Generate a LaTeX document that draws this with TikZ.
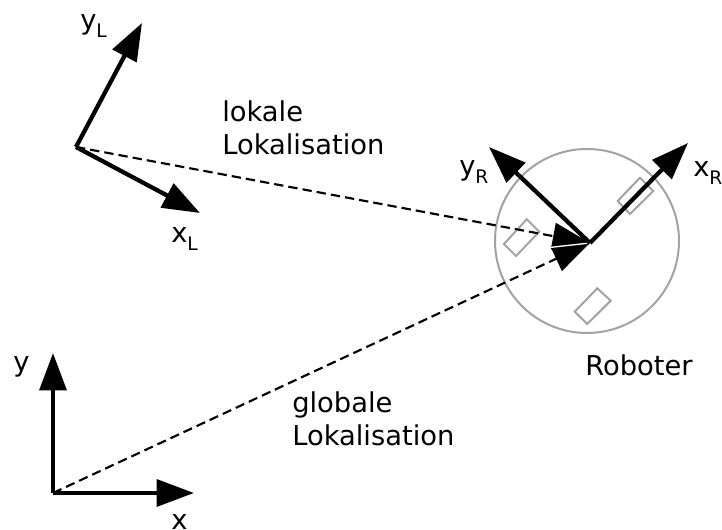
\documentclass[tikz,border=0pt]{standalone}
\usepackage{fontspec}
\setmainfont{DejaVu Sans}
\usetikzlibrary{arrows.meta}
\newcommand{\subx}[1]{\raisebox{-0.28em}{\fontsize{14}{16}\selectfont #1}}
\tikzset{
  x=0.75pt,y=-0.75pt,
  axis/.style={line width=3.2pt,-{Triangle[length=28pt,width=20pt]}},
  dashlink/.style={line width=1.6pt,dash pattern=on 7pt off 3.8pt,-{Triangle[length=28pt,width=20pt]}},
  part/.style={draw=black!36,line width=1.5pt},
  lab/.style={inner sep=0pt,anchor=base west,font=\fontsize{20.5}{25}\selectfont},
  multi/.style={inner sep=0pt,anchor=north west,align=left,font=\fontsize{20.5}{25}\selectfont},
}
\begin{document}
\begin{tikzpicture}
\useasboundingbox (0,0) rectangle (722,530);
\coordinate (L) at (76,147);
\coordinate (R) at (590,243);
\coordinate (G) at (53,493);
\coordinate (yLt) at (142,23);
\coordinate (xLt) at (200,213);
\coordinate (xRt) at (688,143);
\coordinate (yRt) at (489,147);
\coordinate (yt) at (53,353);
\coordinate (xt) at (194,493);
\coordinate (w) at (547.7,247.7);
\node[part,circle,minimum size=138pt,inner sep=0pt] (robot) at (587,241) {};
\draw[part] (640,177.7) -- (653.3,191) -- (630,214) -- (617.7,201) -- cycle;
\draw[part] (526.7,219.3) -- (539.3,231.7) -- (516,256) -- (504,244) -- cycle;
\draw[part] (597.3,288.3) -- (610.7,300.7) -- (587.3,324) -- (574.7,311.7) -- cycle;
\draw[dashlink] (G) -- (R);
\draw[dashlink] (L) -- (R);
\draw[white,line width=1pt] (w) -- (R);
\draw[axis] (R) -- (xRt);
\draw[axis] (R) -- (yRt);
\draw[axis] (L) -- (yLt);
\draw[axis] (L) -- (xLt);
\draw[axis] (G) -- (yt);
\draw[axis] (G) -- (xt);
\node[lab] (lyL) at (80,30) {y\subx{L}};
\node[lab] (lxL) at (171,243) {x\subx{L}};
\node[lab] (lyR) at (459,176) {y\subx{R}};
\node[lab] (lxR) at (693,177) {x\subx{R}};
\node[lab] (ly) at (13,372) {y};
\node[lab] (lx) at (171,530) {x};
\node[multi] (t1) at (222,100) {lokale\\Lokalisation};
\node[multi] (t2) at (292,391) {globale\\Lokalisation};
\node[lab] (t3) at (585,376) {Roboter};
\end{tikzpicture}
\end{document}
